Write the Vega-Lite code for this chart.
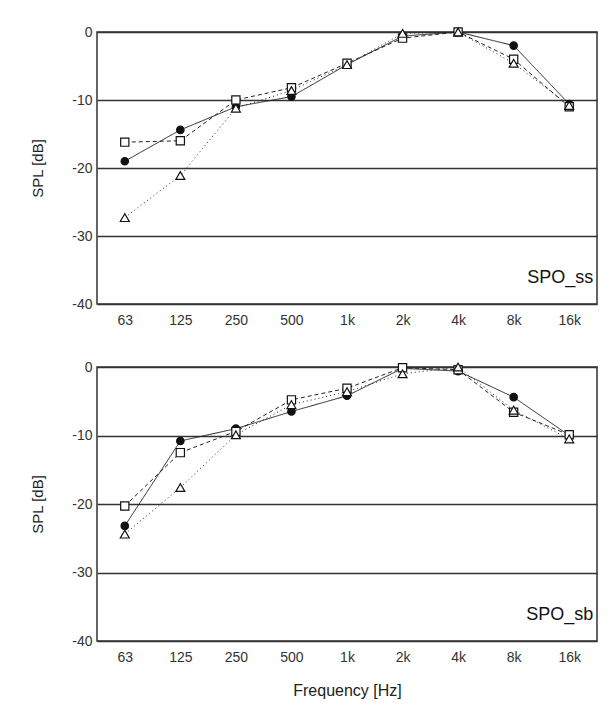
{
  "$schema": "https://vega.github.io/schema/vega-lite/v6.json",
  "background": "white",
  "padding": {"left": 30, "top": 24, "right": 8, "bottom": 10},
  "spacing": 31,
  "config": {
    "font": "Liberation Sans",
    "view": {"stroke": "#333", "strokeWidth": 1.5},
    "axis": {
      "labelFont": "Liberation Sans", "labelFontSize": 14, "labelColor": "#333",
      "titleFont": "Liberation Sans", "titleFontSize": 15, "titleFontWeight": "normal", "titleColor": "#222",
      "ticks": false, "domain": false
    }
  },
  "datasets": {
    "ss": [
      {"f": "63", "series": "A", "v": -19.0}, {"f": "125", "series": "A", "v": -14.4}, {"f": "250", "series": "A", "v": -11.0},
      {"f": "500", "series": "A", "v": -9.5}, {"f": "1k", "series": "A", "v": -4.8}, {"f": "2k", "series": "A", "v": -0.6},
      {"f": "4k", "series": "A", "v": 0.0}, {"f": "8k", "series": "A", "v": -2.0}, {"f": "16k", "series": "A", "v": -10.6},
      {"f": "63", "series": "B", "v": -16.2}, {"f": "125", "series": "B", "v": -16.0}, {"f": "250", "series": "B", "v": -10.0},
      {"f": "500", "series": "B", "v": -8.2}, {"f": "1k", "series": "B", "v": -4.6}, {"f": "2k", "series": "B", "v": -0.9},
      {"f": "4k", "series": "B", "v": 0.0}, {"f": "8k", "series": "B", "v": -4.0}, {"f": "16k", "series": "B", "v": -11.0},
      {"f": "63", "series": "C", "v": -27.3}, {"f": "125", "series": "C", "v": -21.1}, {"f": "250", "series": "C", "v": -11.2},
      {"f": "500", "series": "C", "v": -8.6}, {"f": "1k", "series": "C", "v": -4.8}, {"f": "2k", "series": "C", "v": -0.2},
      {"f": "4k", "series": "C", "v": 0.0}, {"f": "8k", "series": "C", "v": -4.6}, {"f": "16k", "series": "C", "v": -10.8}
    ],
    "sb": [
      {"f": "63", "series": "A", "v": -23.2}, {"f": "125", "series": "A", "v": -10.8}, {"f": "250", "series": "A", "v": -9.0},
      {"f": "500", "series": "A", "v": -6.5}, {"f": "1k", "series": "A", "v": -4.2}, {"f": "2k", "series": "A", "v": -0.2},
      {"f": "4k", "series": "A", "v": -0.6}, {"f": "8k", "series": "A", "v": -4.4}, {"f": "16k", "series": "A", "v": -10.0},
      {"f": "63", "series": "B", "v": -20.3}, {"f": "125", "series": "B", "v": -12.5}, {"f": "250", "series": "B", "v": -9.4},
      {"f": "500", "series": "B", "v": -4.8}, {"f": "1k", "series": "B", "v": -3.1}, {"f": "2k", "series": "B", "v": -0.1},
      {"f": "4k", "series": "B", "v": -0.4}, {"f": "8k", "series": "B", "v": -6.6}, {"f": "16k", "series": "B", "v": -9.9},
      {"f": "63", "series": "C", "v": -24.4}, {"f": "125", "series": "C", "v": -17.6}, {"f": "250", "series": "C", "v": -9.9},
      {"f": "500", "series": "C", "v": -5.5}, {"f": "1k", "series": "C", "v": -3.6}, {"f": "2k", "series": "C", "v": -1.0},
      {"f": "4k", "series": "C", "v": 0.0}, {"f": "8k", "series": "C", "v": -6.3}, {"f": "16k", "series": "C", "v": -10.5}
    ]
  },
  "vconcat": [
    {
      "width": 500, "height": 272,
      "layer": [
        {
          "data": {"name": "ss"},
          "mark": {"type": "line", "strokeWidth": 1, "color": "#222"},
          "encoding": {
            "x": {"field": "f", "type": "ordinal", "sort": ["63","125","250","500","1k","2k","4k","8k","16k"], "scale": {"type": "point", "domain": ["63","125","250","500","1k","2k","4k","8k","16k"], "padding": 0.5}, "axis": {"title": null, "labelAngle": 0, "labelPadding": 9, "labelDx": -8}},
            "y": {"field": "v", "type": "quantitative", "scale": {"domain": [-40, 0], "nice": false}, "axis": {"title": "SPL [dB]", "values": [-40,-30,-20,-10,0], "labelExpr": "'' + datum.value", "grid": true, "gridColor": "#333", "gridWidth": 1.5, "gridOpacity": 1, "labelPadding": 5, "titlePadding": 26}},
            "detail": {"field": "series"},
            "strokeDash": {"field": "series", "scale": {"domain": ["A","B","C"], "range": [[1,0],[4,3],[1,3]]}, "legend": null}
          }
        },
        {
          "data": {"name": "ss"},
          "mark": {"type": "point", "filled": true, "opacity": 1, "stroke": "#111", "strokeWidth": 1.2},
          "encoding": {
            "x": {"field": "f", "type": "ordinal"},
            "y": {"field": "v", "type": "quantitative"},
            "shape": {"field": "series", "scale": {"domain": ["A","B","C"], "range": ["circle","square","triangle-up"]}, "legend": null},
            "fill": {"field": "series", "scale": {"domain": ["A","B","C"], "range": ["#111","white","white"]}, "legend": null},
            "size": {"field": "series", "scale": {"domain": ["A","B","C"], "range": [55,80,70]}, "legend": null}
          }
        },
        {
          "data": {"values": [{}]},
          "mark": {"type": "text", "text": "SPO_ss", "align": "right", "baseline": "alphabetic", "fontSize": 18, "color": "#111", "dx": 24},
          "encoding": {
            "x": {"datum": "16k", "type": "ordinal"},
            "y": {"datum": -36.9, "type": "quantitative"}
          }
        }
      ]
    },
    {
      "width": 500, "height": 274,
      "layer": [
        {
          "data": {"name": "sb"},
          "mark": {"type": "line", "strokeWidth": 1, "color": "#222"},
          "encoding": {
            "x": {"field": "f", "type": "ordinal", "sort": ["63","125","250","500","1k","2k","4k","8k","16k"], "scale": {"type": "point", "domain": ["63","125","250","500","1k","2k","4k","8k","16k"], "padding": 0.5}, "axis": {"title": "Frequency [Hz]", "labelAngle": 0, "labelPadding": 9, "labelDx": -8, "titleFontSize": 16, "titlePadding": 18}},
            "y": {"field": "v", "type": "quantitative", "scale": {"domain": [-40, 0], "nice": false}, "axis": {"title": "SPL [dB]", "values": [-40,-30,-20,-10,0], "labelExpr": "'' + datum.value", "grid": true, "gridColor": "#333", "gridWidth": 1.5, "gridOpacity": 1, "labelPadding": 5, "titlePadding": 26}},
            "detail": {"field": "series"},
            "strokeDash": {"field": "series", "scale": {"domain": ["A","B","C"], "range": [[1,0],[4,3],[1,3]]}, "legend": null}
          }
        },
        {
          "data": {"name": "sb"},
          "mark": {"type": "point", "filled": true, "opacity": 1, "stroke": "#111", "strokeWidth": 1.2},
          "encoding": {
            "x": {"field": "f", "type": "ordinal"},
            "y": {"field": "v", "type": "quantitative"},
            "shape": {"field": "series", "scale": {"domain": ["A","B","C"], "range": ["circle","square","triangle-up"]}, "legend": null},
            "fill": {"field": "series", "scale": {"domain": ["A","B","C"], "range": ["#111","white","white"]}, "legend": null},
            "size": {"field": "series", "scale": {"domain": ["A","B","C"], "range": [55,80,70]}, "legend": null}
          }
        },
        {
          "data": {"values": [{}]},
          "mark": {"type": "text", "text": "SPO_sb", "align": "right", "baseline": "alphabetic", "fontSize": 18, "color": "#111", "dx": 24},
          "encoding": {
            "x": {"datum": "16k", "type": "ordinal"},
            "y": {"datum": -36.9, "type": "quantitative"}
          }
        }
      ]
    }
  ]
}
